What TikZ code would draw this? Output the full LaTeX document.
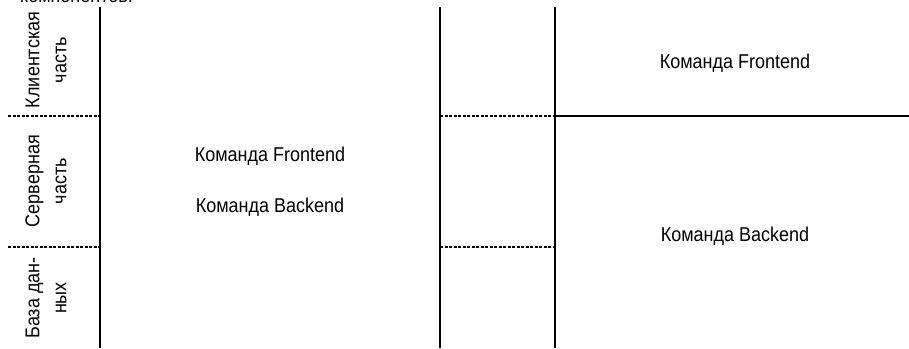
\documentclass[tikz,border=0pt]{standalone}
\usepackage{fontspec}
\setmainfont{Liberation Sans}[FakeStretch=0.9]
\begin{document}
\begin{tikzpicture}[x=1pt,y=1pt,
  solidline/.style={line width=1.2pt,black},
  dotline/.style={line width=1.2pt,black,dash pattern=on 3pt off 1.5pt},
  lbl/.style={font=\fontsize{20}{27}\selectfont,inner sep=0pt},
  sidelbl/.style={lbl,rotate=90,align=center}]
\useasboundingbox (0,0) rectangle (909,348);
\clip (0,0) rectangle (909,348);
% cut-off caption at the top
\node[lbl,anchor=base west] (cap) at (20,345) {компонентов.};
% coordinates
\coordinate (v1t) at (100,341); \coordinate (v1b) at (100,0);
\coordinate (v2t) at (440,341); \coordinate (v2b) at (440,0);
\coordinate (v3t) at (555,341); \coordinate (v3b) at (555,0);
\coordinate (l1) at (8,232); \coordinate (l1e) at (100,232);
\coordinate (l2) at (8,101); \coordinate (l2e) at (100,101);
\coordinate (m1) at (440,232); \coordinate (m1e) at (555,232);
\coordinate (m2) at (440,101); \coordinate (m2e) at (555,101);
\coordinate (r1e) at (909,232);
% lines
\draw[solidline] (v1t) -- (v1b);
\draw[solidline] (v2t) -- (v2b);
\draw[solidline] (v3t) -- (v3b);
\draw[dotline] (l1) -- (l1e);
\draw[dotline] (l2) -- (l2e);
\draw[dotline] (m1) -- (m1e);
\draw[dotline] (m2) -- (m2e);
\draw[solidline] (m1e) -- (r1e);
% side labels
\node[sidelbl] (client) at (46,288) {Клиентская\\часть};
\node[sidelbl] (server) at (46,167) {Серверная\\часть};
\node[sidelbl] (db) at (46,50) {База дан-\\ных};
% center texts
\node[lbl] (cf) at (270,192) {Команда Frontend};
\node[lbl] (cb) at (270,141) {Команда Backend};
% right texts
\node[lbl] (rf) at (735,285) {Команда Frontend};
\node[lbl] (rb) at (735,112) {Команда Backend};
\end{tikzpicture}
\end{document}
